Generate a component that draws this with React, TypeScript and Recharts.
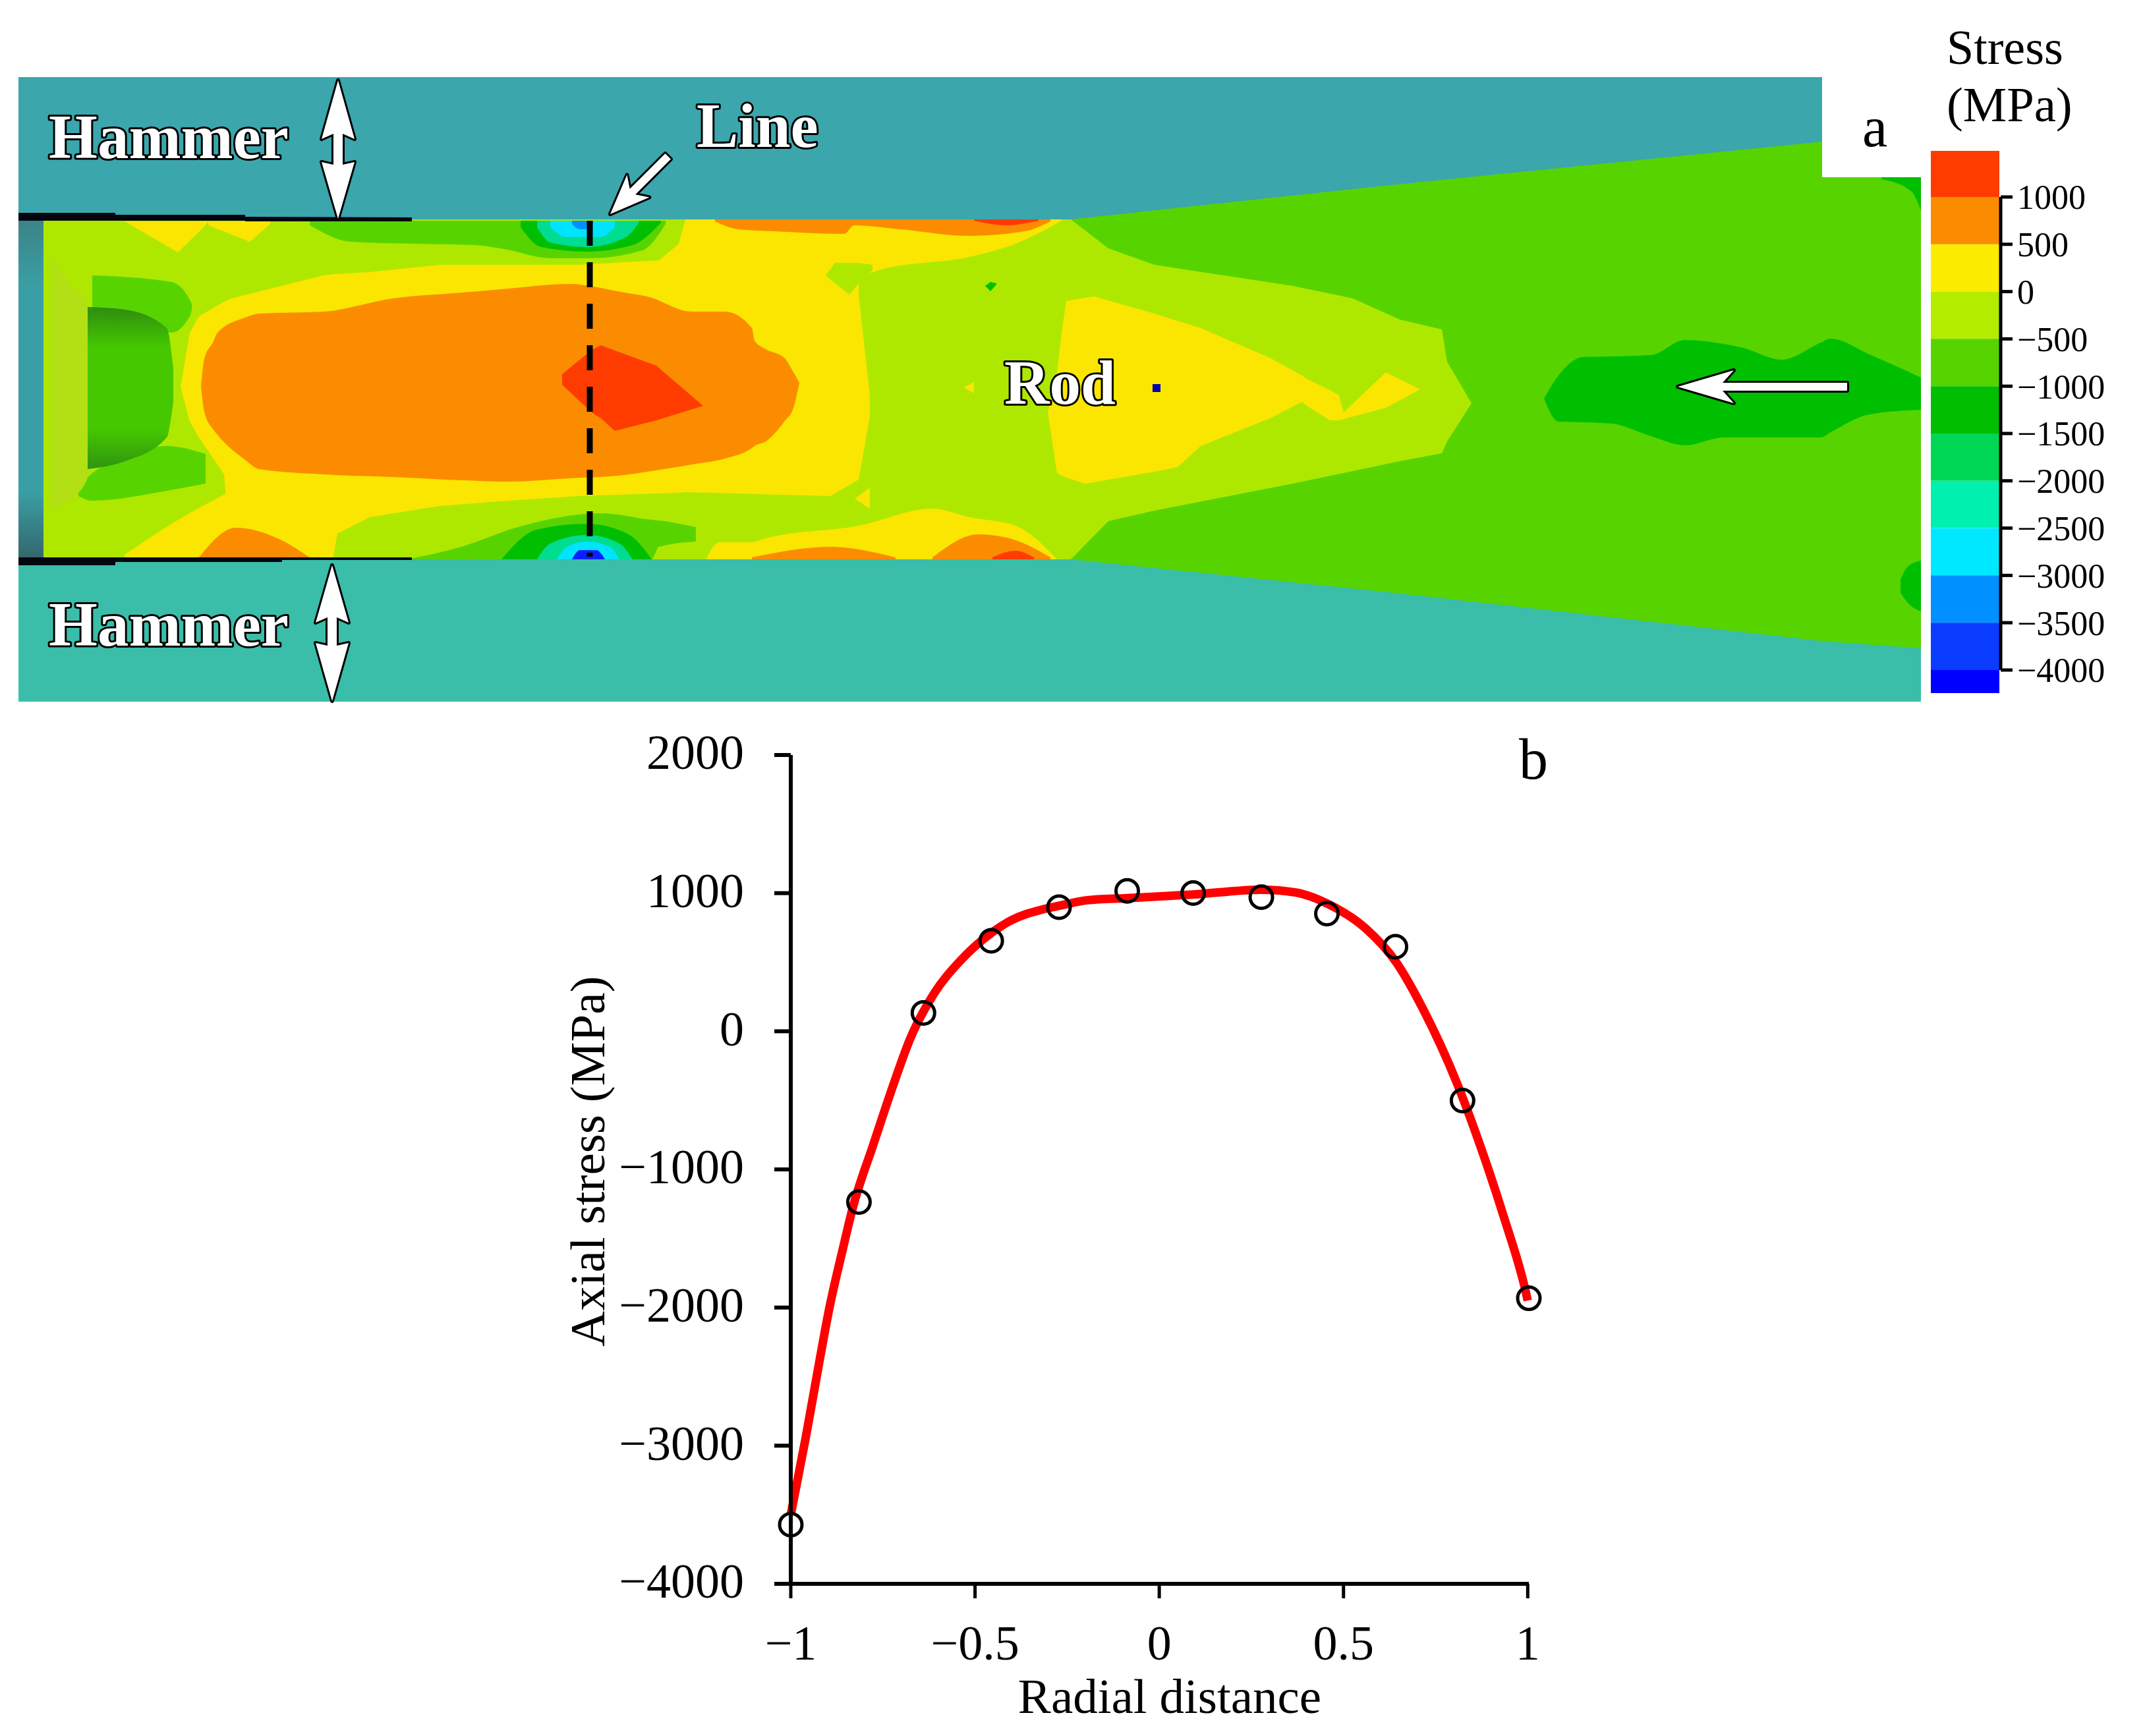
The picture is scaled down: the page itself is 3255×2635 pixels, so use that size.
import React from 'react'
import { Area, Bar, BarChart, ComposedChart, Line, LineChart, Scatter, XAxis, YAxis } from 'recharts'

const SERIF = '"Liberation Serif", serif'

// panel b: radial distance against axial stress
const measuredRadial = [-1, -0.815, -0.64, -0.456, -0.272, -0.087, 0.092, 0.277, 0.455, 0.641, 0.823, 1.003]
const measuredStress = [-3572, -1236, 133, 655, 898, 1016, 1001, 971, 852, 612, -502, -1933]
const fitRadial = [-1, -0.96, -0.923, -0.895, -0.86, -0.831, -0.776, -0.722, -0.677, -0.612, -0.54, -0.476, -0.404, -0.313, -0.27, -0.195, -0.087, 0.092, 0.277, 0.37, 0.46, 0.56, 0.643, 0.716, 0.807, 0.871, 0.935, 0.995, 1]
const fitStress = [-3500, -2950, -2400, -2000, -1590, -1270, -820, -390, -60, 270, 510, 670, 800, 885, 910, 949, 964, 990, 1025, 1005, 919, 745, 500, 160, -370, -828, -1343, -1890, -1950]
const stressAxisTicks = [-4000, -3000, -2000, -1000, 0, 1000, 2000]
const radialAxisTicks = [-1, -0.5, 0, 0.5, 1]

// colour scale of panel a, from zero outwards on each side
const scaleTicks = [-4000, -3500, -3000, -2500, -2000, -1500, -1000, -500, 0, 500, 1000]
const scaleBandValues = [500, 500, 487, -500, -500, -500, -500, -500, -500, -500, -500, -244]
const scaleBandColors = ['#fcec00', '#fb8c00', '#ff3c00', '#b4ec00', '#57d400', '#00bf00', '#00d855', '#00f0b0', '#00e8ff', '#0090ff', '#0a3cff', '#0000ff']

const YELLOW = '#fae600'
const ORANGE = '#fb8c00'
const RED = '#ff3c00'
const LIME = '#aee800'
const GREEN = '#57d400'
const DARK_GREEN = '#00bf00'
const MINT = '#00dc90'
const CYAN = '#00e4ff'
const BLUE = '#0090ff'
const DEEP_BLUE = '#0a20ff'

// panel a: stress zones, each row is [axial position, upper edge, lower edge]
const hammerTop = [[28, 117, 600], [2765, 117, 600]]
const hammerBottom = [[28, 600, 1065], [2915, 600, 1065]]
const rodEnd = [[28, 333, 849], [76, 333, 849]]
const wedge = [[1625, 333, 849], [2100, 282, 898], [2765, 215, 973], [2765, 269, 973], [2915, 269, 984]]
const limeBody = [[66, 333, 849], [1625, 333, 849], [1682, 377, 791], [1752, 402, 775], [1962, 434, 734], [2053, 453, 715], [2124, 485, 700], [2188, 500, 688], [2196, 549, 670], [2233, 612, 612]]
const yellowBody = [[274, 587, 587], [288, 505, 640], [302, 480, 664], [340, 458, 720], [351, 453, 849], [491, 418, 849], [505, 416, 849], [512, 416, 810], [561, 413, 785], [667, 402, 768], [772, 402, 760], [877, 402, 753], [1000, 395, 749], [1030, 370, 748], [1040, 333, 747], [1260, 333, 753], [1303, 333, 728]]
const yellowFoot = [[189, 842, 849], [267, 791, 849], [351, 745, 849]]
const yellowBulge = [[1303, 447, 728], [1320, 600, 632]]
const yellowStripe = [[1303, 333, 420], [1338, 333, 409], [1471, 333, 390], [1541, 333, 370], [1604, 333, 339], [1611, 333, 335]]
const yellowLowerRight = [[1071, 849, 849], [1092, 823, 849], [1141, 823, 849], [1162, 817, 849], [1303, 798, 849], [1415, 772, 849], [1471, 785, 849], [1541, 798, 849], [1604, 849, 849]]
const yellowFlake = [[1297, 757, 757], [1320, 740, 772]]
const yellowSpeck = [[1462, 588, 588], [1478, 580, 597]]
const yellowTopA = [[189, 336, 336], [270, 336, 383], [309, 336, 345], [316, 336, 336]]
const yellowTopB = [[316, 336, 342], [379, 336, 367], [410, 336, 340]]
const limeIsland = [[1253, 418, 418], [1267, 399, 430], [1289, 399, 447], [1303, 399, 430], [1324, 402, 410]]
const yellowCore = [[1590, 626, 626], [1604, 565, 718], [1611, 505, 722], [1618, 457, 725], [1646, 452, 734], [1660, 450, 732], [1752, 476, 716], [1787, 487, 709], [1822, 498, 677], [1927, 543, 635], [1976, 570, 610], [1983, 575, 616], [2018, 592, 638], [2032, 600, 638], [2039, 626, 636], [2103, 565, 619], [2155, 591, 591]]
const orangeCore = [[305, 587, 587], [310, 545, 625], [323, 520, 651], [330, 505, 660], [372, 482, 698], [393, 476, 712], [491, 473, 720], [596, 453, 724], [702, 444, 729], [772, 438, 731], [863, 431, 726], [947, 444, 721], [982, 450, 716], [1050, 473, 705], [1100, 473, 696], [1141, 498, 680], [1145, 517, 677], [1162, 530, 670], [1190, 543, 640], [1204, 565, 619], [1213, 581, 581]]
const redCore = [[853, 568, 584], [898, 531, 626], [912, 524, 635], [933, 532, 654], [996, 555, 638], [1067, 616, 616]]
const orangeFoot = [[302, 846, 849], [358, 801, 849], [421, 817, 849], [470, 846, 849]]
const orangeTop = [[1085, 333, 336], [1120, 333, 348], [1176, 333, 351], [1281, 333, 355], [1296, 333, 342], [1366, 333, 348], [1471, 333, 358], [1555, 333, 351], [1594, 333, 336]]
const orangeLowA = [[1141, 846, 849], [1260, 830, 849], [1359, 846, 849]]
const orangeLowB = [[1415, 846, 849], [1485, 811, 849], [1541, 820, 849], [1594, 846, 849]]
const redTop = [[1478, 333, 335], [1527, 333, 342], [1576, 333, 335]]
const redLow = [[1506, 846, 849], [1541, 836, 849], [1569, 846, 849]]
const greenPatchUpper = [[140, 418, 466], [260, 428, 505], [288, 455, 480], [291, 462, 470]]
const greenPatchLower = [[119, 745, 753], [140, 718, 760], [253, 677, 745], [312, 689, 734]]
const voidFace = [[77, 390, 772], [105, 430, 760], [133, 466, 725], [140, 530, 700]]
const voidCup = [[133, 466, 712], [190, 470, 700], [253, 498, 664], [263, 560, 610]]
const contactTop = [
  { fill: GREEN, zone: [[470, 335, 342], [533, 335, 367], [632, 335, 370], [720, 335, 372], [765, 335, 378], [835, 335, 392], [895, 335, 392], [975, 335, 380], [1010, 335, 340]] },
  { fill: DARK_GREEN, zone: [[790, 335, 345], [821, 335, 375], [891, 335, 382], [960, 335, 372], [1003, 335, 338]] },
  { fill: MINT, zone: [[815, 335, 345], [835, 335, 368], [891, 335, 375], [950, 335, 360], [970, 335, 337]] },
  { fill: CYAN, zone: [[835, 335, 345], [860, 335, 360], [910, 335, 360], [933, 335, 345]] },
  { fill: BLUE, zone: [[868, 335, 340], [880, 335, 348], [893, 335, 348], [900, 335, 340]] },
]
const contactBottom = [
  { fill: GREEN, zone: [[618, 849, 849], [700, 830, 849], [786, 800, 849], [912, 779, 849], [989, 789, 849], [1000, 790, 830], [1056, 800, 822]] },
  { fill: DARK_GREEN, zone: [[761, 849, 849], [814, 804, 849], [891, 795, 849], [954, 811, 849], [989, 849, 849]] },
  { fill: MINT, zone: [[815, 849, 849], [835, 825, 849], [891, 812, 849], [940, 825, 849], [960, 849, 849]] },
  { fill: CYAN, zone: [[845, 849, 849], [860, 830, 849], [891, 822, 849], [925, 830, 849], [940, 849, 849]] },
  { fill: DEEP_BLUE, zone: [[868, 849, 849], [880, 835, 849], [905, 835, 849], [918, 849, 849]] },
]
const darkBlob = [[2343, 605, 605], [2365, 570, 640], [2402, 542, 641], [2446, 541, 643], [2505, 539, 662], [2557, 516, 676], [2616, 522, 664], [2645, 528, 664], [2704, 546, 664], [2763, 520, 664], [2778, 514, 656], [2837, 538, 629], [2915, 573, 622]]
const darkCornerTop = [[2855, 269, 272], [2900, 269, 290], [2915, 269, 320]]
const darkCornerLow = [[2884, 880, 900], [2895, 860, 915], [2915, 851, 928]]
const greenSpeck = [[1495, 434, 434], [1503, 428, 442], [1512, 430, 432]]
const blackTop = [[28, 323, 335], [175, 323, 335], [175, 326, 335], [372, 326, 335], [372, 329, 336], [625, 330, 336]]
const blackBottom = [[28, 846, 858], [175, 846, 858], [175, 846, 853], [428, 846, 853], [428, 846, 850], [625, 846, 850]]

// zones with straight machine edges keep a linear outline, the contours are rounded
const stressZones = [
  { fill: '#3ba6ac', zone: hammerTop, straight: true },
  { fill: '#3abda9', zone: hammerBottom, straight: true },
  { fill: 'url(#rodEnd)', zone: rodEnd, straight: true },
  { fill: GREEN, zone: wedge, straight: true },
  { fill: LIME, zone: limeBody, straight: true },
  { fill: YELLOW, zone: yellowBody, straight: true },
  { fill: YELLOW, zone: yellowFoot },
  { fill: YELLOW, zone: yellowBulge },
  { fill: YELLOW, zone: yellowStripe },
  { fill: YELLOW, zone: yellowLowerRight },
  { fill: YELLOW, zone: yellowFlake, straight: true },
  { fill: YELLOW, zone: yellowSpeck, straight: true },
  { fill: YELLOW, zone: yellowTopA, straight: true },
  { fill: YELLOW, zone: yellowTopB, straight: true },
  { fill: LIME, zone: limeIsland, straight: true },
  { fill: YELLOW, zone: yellowCore, straight: true },
  { fill: ORANGE, zone: orangeCore },
  { fill: RED, zone: redCore, straight: true },
  { fill: ORANGE, zone: orangeFoot },
  { fill: ORANGE, zone: orangeTop },
  { fill: ORANGE, zone: orangeLowA },
  { fill: ORANGE, zone: orangeLowB },
  { fill: RED, zone: redTop },
  { fill: RED, zone: redLow },
  { fill: GREEN, zone: greenPatchUpper },
  { fill: GREEN, zone: greenPatchLower },
  { fill: '#b2e014', zone: voidFace },
  { fill: 'url(#voidCup)', zone: voidCup },
  ...contactTop,
  ...contactBottom,
  { fill: DARK_GREEN, zone: darkBlob },
  { fill: DARK_GREEN, zone: darkCornerTop },
  { fill: DARK_GREEN, zone: darkCornerLow },
  { fill: DARK_GREEN, zone: greenSpeck, straight: true },
  { fill: '#050510', zone: blackTop, straight: true },
  { fill: '#050510', zone: blackBottom, straight: true },
]

const measuredData = measuredRadial.map((radial, i) => ({ radial, stress: measuredStress[i] }))
const fitData = fitRadial.map((radial, i) => ({ radial, stress: fitStress[i] }))
const scaleData = [Object.fromEntries(scaleBandValues.map((v, i) => [`band${i}`, v]))]
const scaleAxisData = scaleTicks.map(stress => ({ stress }))

const minus = (v: number) => String(v).replace('-', '\u2212')

const place = (left: number, top: number): React.CSSProperties => ({ position: 'absolute', left, top })

const StressMap = () => (
  <div style={place(0, 0)}>
    <ComposedChart width={3255} height={1100} margin={{ top: 0, right: 0, bottom: 0, left: 0 }}>
      <defs>
        <linearGradient id="rodEnd" x1="0" y1="0" x2="0" y2="1">
          <stop offset="0" stopColor="#3b8388" />
          <stop offset="0.2" stopColor="#3a9fa4" />
          <stop offset="0.8" stopColor="#3a9fa4" />
          <stop offset="1" stopColor="#33666c" />
        </linearGradient>
        <linearGradient id="voidCup" x1="0" y1="0" x2="0" y2="1">
          <stop offset="0" stopColor="#2f8c10" />
          <stop offset="0.25" stopColor="#45c800" />
          <stop offset="0.75" stopColor="#45c800" />
          <stop offset="1" stopColor="#2f9410" />
        </linearGradient>
      </defs>
      <XAxis type="number" dataKey="x" domain={[0, 3255]} hide />
      <YAxis type="number" domain={[0, 1100]} reversed hide />
      {stressZones.map((item: any, i) => (
        <Area
          key={i}
          data={item.zone.map(([x, upper, lower]: number[]) => ({ x, span: [upper, lower] }))}
          dataKey="span"
          type={item.straight ? 'linear' : 'monotone'}
          stroke="none"
          fill={item.fill}
          fillOpacity={1}
          dot={false}
          activeDot={false}
          isAnimationActive={false}
        />
      ))}
    </ComposedChart>
  </div>
)

const ColourScale = () => (
  <>
    <div style={place(2930, 229)}>
      <BarChart width={104} height={823} data={scaleData} stackOffset="sign" barCategoryGap={0} margin={{ top: 0, right: 0, bottom: 0, left: 0 }}>
        <XAxis hide />
        <YAxis type="number" domain={[-4244, 1487]} hide />
        {scaleBandValues.map((_, i) => (
          <Bar key={i} dataKey={`band${i}`} stackId="scale" fill={scaleBandColors[i]} isAnimationActive={false} />
        ))}
      </BarChart>
    </div>
    <div style={place(3000, 259)}>
      <LineChart width={255} height={798} data={scaleAxisData} margin={{ top: 40, right: 0, bottom: 40, left: 0 }}>
        <XAxis hide />
        <YAxis
          orientation="right"
          width={219}
          type="number"
          domain={[-4000, 1000]}
          ticks={scaleTicks}
          interval={0}
          tickFormatter={minus}
          tick={{ fontSize: 52, fill: '#000', fontFamily: SERIF }}
          tickSize={18}
          tickMargin={7}
          axisLine={{ stroke: '#000', strokeWidth: 5 }}
          tickLine={{ stroke: '#000', strokeWidth: 5 }}
        />
        <Line dataKey="stress" stroke="none" dot={false} isAnimationActive={false} />
      </LineChart>
    </div>
  </>
)

const AxialProfile = () => (
  <div style={place(800, 1100)}>
    <ComposedChart width={1600} height={1535} margin={{ top: 46, right: 80, bottom: 0, left: 0 }}>
      <XAxis
        type="number"
        dataKey="radial"
        domain={[-1, 1]}
        ticks={radialAxisTicks}
        interval={0}
        tickFormatter={minus}
        height={231}
        tick={{ fontSize: 74, fill: '#000', fontFamily: SERIF }}
        tickSize={22}
        tickMargin={40}
        axisLine={{ stroke: '#000', strokeWidth: 6 }}
        tickLine={{ stroke: '#000', strokeWidth: 5 }}
        label={{ value: 'Radial distance', position: 'insideBottom', offset: 35, dx: 15, fontSize: 75, fill: '#000', fontFamily: SERIF }}
      />
      <YAxis
        type="number"
        dataKey="stress"
        width={400}
        domain={[-4000, 2000]}
        ticks={stressAxisTicks}
        interval={0}
        tickFormatter={minus}
        tick={{ fontSize: 74, fill: '#000', fontFamily: SERIF, dy: -5 }}
        tickSize={25}
        tickMargin={46}
        axisLine={{ stroke: '#000', strokeWidth: 6 }}
        tickLine={{ stroke: '#000', strokeWidth: 6 }}
        label={{ value: 'Axial stress (MPa)', angle: -90, position: 'insideLeft', dx: 85, dy: 269, fontSize: 75, fill: '#000', fontFamily: SERIF }}
      />
      <Scatter
        data={measuredData}
        dataKey="stress"
        isAnimationActive={false}
        shape={(p: any) => <circle cx={p.cx} cy={p.cy} r={17} fill="none" stroke="#000" strokeWidth={5} />}
      />
      <Line data={fitData} dataKey="stress" type="monotone" stroke="#fe0000" strokeWidth={13} dot={false} activeDot={false} isAnimationActive={false} />
    </ComposedChart>
  </div>
)

const headPath = (length: number, head: number, half: number, shaft: number) =>
  `M0 0L${head} ${-half}L${head * 0.8} ${-shaft}L${length} ${-shaft}L${length} ${shaft}L${head * 0.8} ${shaft}L${head} ${half}Z`

const outlined = { fill: '#fff', stroke: '#000', strokeWidth: 6, paintOrder: 'stroke', strokeLinejoin: 'round' } as const
const calloutText = { ...outlined, fontSize: 95, fontWeight: 700, fontFamily: SERIF }

const Annotations = () => (
  <svg width={3255} height={2635} style={place(0, 0)}>
    <path d="M895 335V845" stroke="#000" strokeWidth={9} strokeDasharray="38 25" fill="none" />
    <rect x={1749} y={583} width={12} height={12} fill="#0000b0" />
    <path d="M513 122L538 211L520 203V250L538 246L513 332L488 246L506 250V203L488 211Z" {...outlined} />
    <path d="M504 858L529 945L511 937V980L529 976L504 1064L479 976L497 980V937L479 945Z" {...outlined} />
    <path d={headPath(124, 60, 24, 6)} transform="translate(926 325) rotate(-45)" {...outlined} />
    <path d={headPath(257, 85, 25, 6)} transform="translate(2546 587)" {...outlined} />
    <text x={74} y={240} {...calloutText}>Hammer</text>
    <text x={74} y={980} {...calloutText}>Hammer</text>
    <text x={1057} y={223} {...calloutText}>Line</text>
    <text x={1524} y={613} {...calloutText}>Rod</text>
    <g fontFamily={SERIF} fill="#000">
      <text x={2826} y={222} fontSize={86}>a</text>
      <text x={2305} y={1182} fontSize={88}>b</text>
      <text x={2954} y={97} fontSize={74}>Stress</text>
      <text x={2954} y={184} fontSize={74.6}>(MPa)</text>
    </g>
  </svg>
)

export default function App() {
  return (
    <div style={{ ...place(0, 0), width: 3255, height: 2635, background: '#fff', overflow: 'hidden', fontFamily: SERIF }}>
      <StressMap />
      <ColourScale />
      <AxialProfile />
      <Annotations />
    </div>
  )
}
